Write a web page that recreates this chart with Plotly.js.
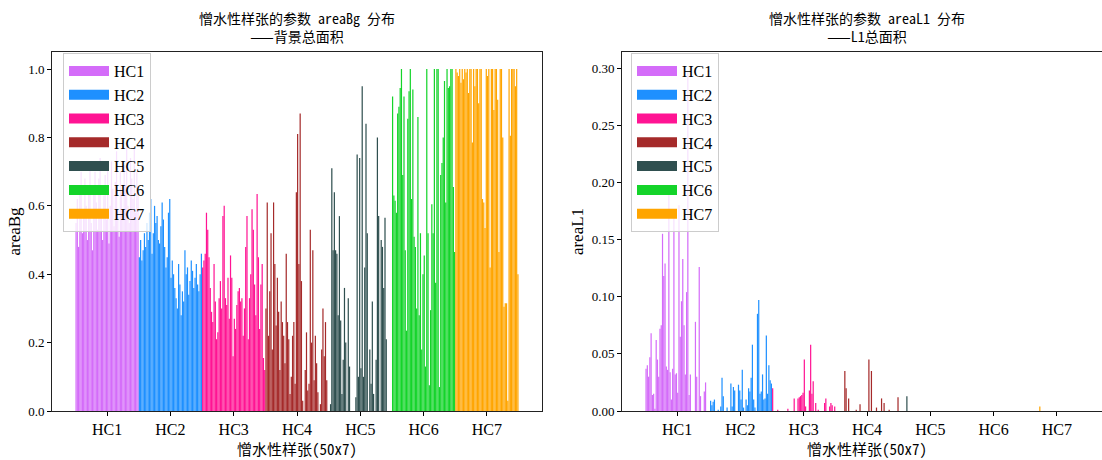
<!DOCTYPE html>
<html>
<head>
<meta charset="utf-8">
<script src="https://cdn.plot.ly/plotly-3.0.1.min.js"></script>
<style>
html,body{margin:0;padding:0;overflow:hidden;background:#fff;}
#chart{width:1112px;height:460px;}
</style>
</head>
<body>
<div id="chart"></div>
<script>
// ---- categories / tick labels ----
const categories = ['HC1','HC2','HC3','HC4','HC5','HC6','HC7'];
const colors = ['#D46CF9','#1E90FF','#FF1493','#A52A2A','#2F4F4F','#14D42A','#FFA500'];
const samplesPerGroup = 50;

// ---- areaBg (left chart), 50 samples per group ----
const areaBgHC1 = [0.55,0.62,0.48,0.66,0.70,0.52,0.58,0.68,0.60,0.50,0.64,0.72,0.55,0.47,0.66,0.70,0.61,0.53,0.68,0.74,0.58,0.50,0.63,0.69,0.56,0.71,0.49,0.60,0.73,0.65,0.54,0.67,0.76,0.59,0.51,0.70,0.64,0.57,0.72,0.66,0.78,0.60,0.55,0.74,0.68,0.62,0.77,0.58,0.70,0.63];
const areaBgHC2 = [0.45,0.50,0.44,0.47,0.52,0.48,0.55,0.50,0.58,0.62,0.46,0.52,0.60,0.55,0.57,0.50,0.49,0.54,0.61,0.56,0.48,0.42,0.45,0.58,0.62,0.39,0.44,0.40,0.36,0.33,0.30,0.43,0.37,0.28,0.35,0.32,0.47,0.40,0.42,0.34,0.38,0.44,0.41,0.36,0.39,0.43,0.37,0.35,0.40,0.46];
const areaBgHC3 = [0.42,0.44,0.46,0.58,0.53,0.45,0.36,0.29,0.26,0.43,0.32,0.21,0.23,0.33,0.38,0.30,0.57,0.60,0.33,0.31,0.39,0.27,0.455,0.39,0.16,0.27,0.24,0.31,0.35,0.36,0.32,0.33,0.22,0.30,0.48,0.57,0.21,0.33,0.40,0.59,0.53,0.37,0.28,0.635,0.45,0.24,0.37,0.43,0.155,0.12];
const areaBgHC4 = [0.30,0.61,0.22,0.35,0.52,0.18,0.61,0.43,0.25,0.39,0.29,0.12,0.32,0.26,0.22,0.14,0.46,0.26,0.21,0.05,0.10,0.22,0.26,0.08,0.64,0.81,0.43,0.87,0.38,0.03,0.00,0.12,0.23,0.06,0.08,0.53,0.20,0.47,0.09,0.22,0.14,0.055,0.00,0.02,0.18,0.30,0.16,0.26,0.09,0.00];
const areaBgHC5 = [0.00,0.02,0.71,0.47,0.64,0.47,0.46,0.28,0.57,0.265,0.05,0.15,0.36,0.20,0.00,0.33,0.13,0.00,0.00,0.00,0.00,0.04,0.75,0.10,0.74,0.125,0.95,0.10,0.42,0.84,0.52,0.00,0.18,0.08,0.32,0.05,0.00,0.15,0.80,0.57,0.00,0.50,0.48,0.36,0.565,0.21,0.00,0.00,0.00,0.00];
const areaBgHC6 = [0.92,0.63,0.615,0.58,0.87,0.89,0.945,1.00,0.69,0.92,0.47,0.235,0.855,0.935,1.00,0.62,0.94,0.51,0.48,0.30,0.86,0.28,0.52,0.18,0.40,0.455,0.13,1.00,0.52,0.075,0.295,0.605,0.52,1.00,0.375,1.00,1.00,0.07,0.69,0.725,0.80,0.965,0.61,1.00,0.945,0.95,1.00,1.00,0.655,0.465];
const areaBgHC7 = [1.00,0.99,0.98,1.00,0.96,1.00,0.97,1.00,0.99,1.00,0.93,1.00,1.00,0.785,1.00,0.95,1.00,1.00,0.90,1.00,1.00,0.62,0.61,0.535,1.00,0.98,1.00,0.42,1.00,1.00,0.88,1.00,1.00,0.91,0.465,1.00,1.00,0.80,0.305,0.315,0.315,0.03,1.00,0.805,1.00,1.00,1.00,0.95,1.00,0.40];

// ---- areaL1 (right chart), 50 samples per group ----
const areaL1HC1 = [0.037,0.040,0.030,0.047,0.068,0.014,0.015,0.002,0.062,0.045,0.030,0.072,0.075,0.155,0.118,0.129,0.039,0.036,0.190,0.034,0.010,0.037,0.176,0.032,0.033,0.016,0.180,0.065,0.096,0.133,0.075,0.032,0.104,0.296,0.014,0.032,0,0,0,0.078,0.030,0,0.126,0.013,0,0,0.017,0.025,0,0];
const areaL1HC2 = [0,0.009,0.005,0.008,0.010,0,0,0.001,0,0.004,0.029,0.013,0,0,0.003,0,0,0.024,0.004,0.021,0.018,0,0,0.023,0.018,0.010,0.036,0.003,0,0.010,0.005,0.020,0.017,0.029,0.058,0.010,0.003,0,0.085,0.097,0.015,0.017,0.032,0.010,0.011,0.066,0.015,0.040,0.027,0.024];
const areaL1HC3 = [0.020,0,0,0,0.001,0,0,0,0,0,0,0,0.002,0,0,0,0,0.011,0,0,0.011,0.012,0.013,0.014,0.016,0.045,0.004,0,0,0.018,0.058,0.015,0.026,0,0.007,0,0.001,0,0,0,0,0.007,0.011,0,0,0.004,0.007,0.005,0,0.004];
const areaL1HC4 = [0,0,0,0,0,0,0,0.035,0.020,0,0.011,0,0,0,0,0,0.001,0,0,0.006,0,0,0,0,0,0,0.045,0,0.035,0,0,0,0.003,0,0,0,0.011,0,0.007,0,0,0,0.001,0,0,0,0,0,0,0.012];
const areaL1HC5 = [0,0,0,0,0,0,0.013,0,0,0,0,0,0,0,0,0,0,0,0,0,0,0,0,0,0,0,0,0,0,0,0,0,0,0,0,0,0,0,0,0,0,0,0,0,0,0,0,0,0,0];
const areaL1HC6 = [0,0,0,0,0,0,0,0,0,0,0,0,0,0,0,0,0,0,0,0,0,0,0,0,0,0,0,0,0,0,0,0,0,0,0,0,0,0,0,0,0,0,0,0,0,0,0,0,0,0];
const areaL1HC7 = [0,0,0,0,0,0,0,0,0,0,0,0.004,0,0,0,0,0,0,0,0,0,0,0,0,0,0,0,0,0,0,0,0,0,0,0,0,0,0,0,0,0,0,0,0,0,0,0,0,0,0];

const areaBgGroups = [areaBgHC1,areaBgHC2,areaBgHC3,areaBgHC4,areaBgHC5,areaBgHC6,areaBgHC7];
const areaL1Groups = [areaL1HC1,areaL1HC2,areaL1HC3,areaL1HC4,areaL1HC5,areaL1HC6,areaL1HC7];

const W = 1112, H = 460;
const px = v => v / W;

const cjkFont = 'Noto Sans Mono CJK SC, Noto Sans CJK SC, DejaVu Sans Mono, sans-serif';
const serif = 'Liberation Serif, Times New Roman, serif';

const traces = [];
function addChart(groups, xa, ya, legendName) {
  groups.forEach((vals, g) => {
    traces.push({
      type: 'bar',
      x: vals.map((_, i) => g * samplesPerGroup + i),
      y: vals,
      width: 0.96,
      marker: {color: colors[g], line: {width: 0}},
      xaxis: xa, yaxis: ya,
      showlegend: false,
      hoverinfo: 'skip'
    });
  });
  categories.forEach((c, g) => {
    traces.push({
      type: 'scatter', mode: 'lines',
      x: [null], y: [null],
      name: c,
      line: {color: colors[g], width: 12},
      xaxis: xa, yaxis: ya,
      legend: legendName,
      showlegend: true
    });
  });
}
addChart(areaBgGroups, 'x', 'y', 'legend');
addChart(areaL1Groups, 'x2', 'y2', 'legend2');

const tickvals = categories.map((_, g) => g * samplesPerGroup + (samplesPerGroup - 1) / 2);
const xRange = [-19, 368];

function xaxisDef(domain, anchor) {
  return {
    domain: domain, anchor: anchor, range: xRange,
    tickvals: tickvals, ticktext: categories,
    ticks: 'outside', ticklen: 4, tickwidth: 1, tickcolor: '#000',
    showline: true, mirror: true, linecolor: '#222', linewidth: 1,
    showgrid: false, zeroline: false,
    tickfont: {family: serif, size: 16, color: '#000'},
    title: {text: '憎水性样张(50x7)', font: {family: cjkFont, size: 15, color: '#000'}, standoff: 6}
  };
}
function yaxisDef(anchor, range, dtick, fmt, label) {
  return {
    domain: [0, 1], anchor: anchor, range: range,
    dtick: dtick, tick0: 0, tickformat: fmt,
    ticks: 'outside', ticklen: 4, tickwidth: 1, tickcolor: '#000',
    showline: true, mirror: true, linecolor: '#222', linewidth: 1,
    showgrid: false, zeroline: false,
    tickfont: {family: serif, size: 13, color: '#000'},
    title: {text: label, font: {family: serif, size: 17, color: '#000'}, standoff: 3}
  };
}

const legendStyle = (xpx) => ({
  x: px(xpx), xanchor: 'left', xref: 'paper',
  y: 1 - 1 / 359, yanchor: 'top', yref: 'paper',
  bgcolor: 'rgba(255,255,255,0.8)', bordercolor: '#cccccc', borderwidth: 1,
  font: {family: serif, size: 16, color: '#000'},
  itemwidth: 40, tracegroupgap: 0
});

const leftDom = [px(52), px(542)];
const rightDom = [px(622), 1];

const layout = {
  width: W, height: H,
  margin: {l: 0, r: 0, t: 52, b: 49, pad: 0},
  paper_bgcolor: '#fff', plot_bgcolor: '#fff',
  barmode: 'overlay',
  xaxis: xaxisDef(leftDom, 'y'),
  yaxis: yaxisDef('x', [0, 1.05], 0.2, '.1f', 'areaBg'),
  xaxis2: xaxisDef(rightDom, 'y2'),
  yaxis2: yaxisDef('x2', [0, 0.314], 0.05, '.2f', 'areaL1'),
  legend: legendStyle(63),
  legend2: legendStyle(631),
  annotations: [
    {text: '憎水性样张的参数 areaBg 分布<br>——背景总面积', xref: 'paper', yref: 'paper',
     x: (leftDom[0] + leftDom[1]) / 2, y: 1 + (52 - 27) / 359, xanchor: 'center', yanchor: 'middle',
     showarrow: false, font: {family: cjkFont, size: 14, color: '#000'}},
    {text: '憎水性样张的参数 areaL1 分布<br>——L1总面积', xref: 'paper', yref: 'paper',
     x: (rightDom[0] + rightDom[1]) / 2, y: 1 + (52 - 27) / 359, xanchor: 'center', yanchor: 'middle',
     showarrow: false, font: {family: cjkFont, size: 14, color: '#000'}}
  ]
};

Plotly.newPlot('chart', traces, layout, {staticPlot: true, displayModeBar: false});
</script>
</body>
</html>
